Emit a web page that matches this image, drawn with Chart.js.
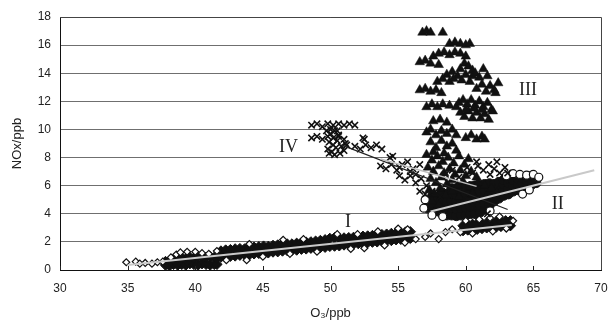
<!DOCTYPE html>
<html>
<head>
<meta charset="utf-8">
<script src="https://cdn.jsdelivr.net/npm/chart.js@4"></script>
<style>
  html, body { margin: 0; padding: 0; background: #fff; }
</style>
</head>
<body>
<canvas id="scatter" width="609" height="325"></canvas>
<script>
// ---- O3 vs NOx, four regimes ----

// regime I (diamonds): dense band core + scattered edge points
const coreI = [
  [37.8, 0.35], [37.8, 0.6], [38.1, 0.3], [38.1, 0.65], [38.4, 0.4], [38.4, 0.7],
  [38.7, 0.35], [38.7, 0.75], [39.0, 0.4], [39.0, 0.85], [39.3, 0.35], [39.3, 0.8],
  [39.6, 0.45], [39.6, 0.9], [39.9, 0.4], [39.9, 0.85], [40.2, 0.35], [40.2, 0.9],
  [40.5, 0.45], [40.5, 0.95], [40.8, 0.4], [40.8, 0.9], [41.1, 0.35], [41.1, 0.95],
  [41.4, 0.4], [41.4, 0.9], [41.6, 0.4], [41.6, 0.85],
  [41.9, 0.92], [41.9, 1.35], [42.25, 0.95], [42.25, 1.42], [42.6, 0.98], [42.6, 1.45],
  [42.95, 1.0], [42.95, 1.5], [43.3, 1.05], [43.3, 1.52], [43.65, 1.1], [43.65, 1.5],
  [44.0, 1.08], [44.0, 1.58], [44.35, 1.15], [44.35, 1.62], [44.7, 1.18], [44.7, 1.65],
  [45.05, 1.2], [45.05, 1.7], [45.4, 1.22], [45.4, 1.68], [45.75, 1.28], [45.75, 1.75],
  [46.1, 1.3], [46.1, 1.78], [46.45, 1.35], [46.45, 1.8], [46.8, 1.38], [46.8, 1.85],
  [47.15, 1.4], [47.15, 1.85], [47.5, 1.42], [47.5, 1.9], [47.85, 1.48], [47.85, 1.95],
  [48.2, 1.5], [48.2, 1.98], [48.55, 1.55], [48.55, 2.0], [48.9, 1.55], [48.9, 2.05],
  [49.25, 1.6], [49.25, 2.1], [49.6, 1.62], [49.6, 2.15], [49.95, 1.68], [49.95, 2.25],
  [50.3, 1.7], [50.3, 2.3], [50.65, 1.72], [50.65, 2.25], [51.0, 1.78], [51.0, 2.28],
  [51.35, 1.8], [51.35, 2.3], [51.7, 1.85], [51.7, 2.32], [52.05, 1.88], [52.05, 2.38],
  [52.4, 1.9], [52.4, 2.4], [52.75, 1.95], [52.75, 2.42], [53.1, 1.98], [53.1, 2.45],
  [53.45, 2.0], [53.45, 2.5], [53.8, 2.05], [53.8, 2.52], [54.15, 2.08], [54.15, 2.55],
  [54.5, 2.1], [54.5, 2.6], [54.85, 2.15], [54.85, 2.62], [55.2, 2.18], [55.2, 2.65],
  [55.55, 2.2], [55.55, 2.7], [55.9, 2.25], [55.9, 2.72],
  [59.8, 2.8], [59.8, 3.15], [60.15, 2.85], [60.15, 3.2], [60.5, 2.9], [60.5, 3.25],
  [60.85, 2.9], [60.85, 3.3], [61.2, 2.95], [61.2, 3.3], [61.55, 3.0], [61.55, 3.35],
  [61.9, 3.0], [61.9, 3.4], [62.25, 3.05], [62.25, 3.45], [62.6, 3.1], [62.6, 3.45],
  [62.95, 3.1], [62.95, 3.5], [63.3, 3.15], [63.3, 3.5]
];
const edgeI = [
  [34.9, 0.55], [35.6, 0.6], [35.9, 0.45], [36.3, 0.5], [36.8, 0.45], [37.2, 0.55],
  [37.6, 0.6], [38.2, 0.9], [38.6, 1.1], [38.9, 1.25], [39.4, 1.3], [40.0, 1.3],
  [40.5, 1.2], [41.0, 1.15], [41.6, 1.35], [42.3, 0.7], [43.8, 0.7], [44.0, 1.85],
  [45.0, 0.95], [46.5, 2.15], [47.0, 1.15], [48.0, 2.2], [49.0, 1.3], [50.5, 2.55],
  [51.5, 1.5], [52.0, 2.55], [52.5, 1.55], [53.5, 2.75], [54.0, 1.75], [55.0, 2.95],
  [55.5, 1.95], [55.7, 2.9], [56.3, 2.2], [57.0, 2.35], [57.4, 2.6], [58.0, 2.2],
  [58.5, 2.7], [59.0, 2.9], [59.6, 2.7], [60.0, 3.5], [61.0, 3.6], [61.8, 3.7],
  [62.5, 3.8], [63.5, 3.5], [60.5, 2.6], [62.0, 2.75], [63.0, 2.95]
];

// regime II (circles)
const coreII = [
  [57.2, 4.4], [57.2, 4.9], [57.55, 4.3], [57.55, 4.8], [57.55, 5.3],
  [57.9, 4.2], [57.9, 4.7], [57.9, 5.2], [58.25, 4.0], [58.25, 4.5], [58.25, 5.0], [58.25, 5.5],
  [58.6, 3.9], [58.6, 4.4], [58.6, 4.9], [58.6, 5.4],
  [58.95, 3.9], [58.95, 4.4], [58.95, 4.9], [58.95, 5.4], [58.95, 5.8],
  [59.3, 3.85], [59.3, 4.35], [59.3, 4.85], [59.3, 5.35], [59.3, 5.8],
  [59.65, 3.9], [59.65, 4.4], [59.65, 4.9], [59.65, 5.4], [59.65, 5.85],
  [60.0, 3.9], [60.0, 4.45], [60.0, 4.95], [60.0, 5.45], [60.0, 5.9],
  [60.35, 4.0], [60.35, 4.5], [60.35, 5.0], [60.35, 5.5], [60.35, 5.95],
  [60.7, 4.0], [60.7, 4.55], [60.7, 5.05], [60.7, 5.55], [60.7, 6.0],
  [61.05, 4.1], [61.05, 4.6], [61.05, 5.1], [61.05, 5.6], [61.05, 6.05],
  [61.4, 4.3], [61.4, 4.75], [61.4, 5.2], [61.4, 5.65], [61.4, 6.1],
  [61.75, 4.6], [61.75, 5.0], [61.75, 5.4], [61.75, 5.8], [61.75, 6.15],
  [62.1, 4.9], [62.1, 5.3], [62.1, 5.7], [62.1, 6.1],
  [62.45, 5.1], [62.45, 5.5], [62.45, 5.9], [62.45, 6.25],
  [62.8, 5.3], [62.8, 5.7], [62.8, 6.1], [62.8, 6.4],
  [63.15, 5.4], [63.15, 5.8], [63.15, 6.2], [63.15, 6.5],
  [63.5, 5.6], [63.5, 6.0], [63.5, 6.4], [63.85, 5.7], [63.85, 6.1], [63.85, 6.5],
  [64.2, 5.8], [64.2, 6.2], [64.2, 6.55], [64.55, 5.9], [64.55, 6.3], [64.55, 6.6],
  [64.9, 6.1], [64.9, 6.4], [64.9, 6.7], [65.2, 6.2], [65.2, 6.5]
];
const edgeII = [
  [63.0, 6.7], [63.5, 6.85], [64.0, 6.8], [64.5, 6.75], [65.0, 6.8], [65.4, 6.6],
  [64.2, 5.4], [64.7, 5.7], [58.3, 3.8], [57.5, 3.9], [56.9, 4.4], [57.0, 5.0],
  [61.8, 4.2]
];

// regime III (filled triangles)
const pointsIII = [
  [56.8, 16.9], [57.1, 17.0], [57.4, 16.9], [58.3, 16.9],
  [58.8, 16.1], [59.2, 16.2], [59.6, 16.1], [60.0, 16.0], [60.3, 16.1],
  [57.6, 15.2], [58.0, 15.4], [58.4, 15.5], [58.8, 15.3], [59.2, 15.5], [59.6, 15.4], [60.0, 15.2],
  [56.6, 14.8], [57.0, 14.9], [57.4, 14.7], [58.0, 14.6],
  [59.6, 14.3], [59.9, 14.7], [60.2, 14.5], [60.5, 14.2],
  [58.6, 13.9], [59.0, 14.1], [59.4, 13.8],
  [59.7, 13.5], [60.0, 13.9], [60.3, 13.4], [60.5, 13.8],
  [60.7, 14.0], [61.0, 13.7], [61.3, 14.3], [61.6, 13.8],
  [57.9, 13.4], [58.3, 13.6], [58.8, 13.4], [59.1, 13.6],
  [60.8, 12.9], [61.2, 13.2], [61.5, 12.7], [61.8, 13.1], [62.1, 12.8], [62.4, 13.3], [62.2, 12.6],
  [56.6, 12.8], [57.0, 12.9], [57.4, 12.7], [57.8, 12.8], [58.2, 12.6],
  [57.1, 11.6], [57.5, 11.8], [57.9, 11.6], [58.3, 11.8], [58.8, 11.7], [59.3, 11.6],
  [59.5, 11.9], [59.8, 12.1], [60.1, 11.8], [60.4, 12.1], [60.7, 11.7], [61.0, 12.0],
  [61.3, 11.6], [61.6, 11.9], [61.9, 11.4],
  [59.6, 11.2], [59.9, 10.9], [60.2, 11.3], [60.5, 10.8], [60.8, 11.2], [61.1, 10.8],
  [61.4, 11.1], [61.7, 10.7], [62.0, 11.3], [60.0, 11.4], [60.6, 11.5], [61.2, 11.4],
  [57.6, 10.6], [58.1, 10.7], [58.6, 10.5],
  [57.1, 9.8], [57.4, 10.0], [57.8, 9.6], [58.2, 9.9], [58.6, 9.7], [59.0, 10.0], [59.3, 9.6],
  [60.0, 9.4], [60.4, 9.6], [60.8, 9.3], [61.2, 9.5], [61.4, 9.3],
  [57.4, 9.1], [57.8, 8.7], [58.2, 9.2], [58.6, 8.8], [59.0, 9.0], [59.3, 8.5], [57.6, 8.4], [58.4, 8.3],
  [57.1, 8.2], [57.5, 7.8], [57.9, 8.1], [58.3, 7.7], [58.7, 8.0], [59.1, 7.6], [59.5, 8.1],
  [59.9, 7.5], [60.2, 7.9],
  [57.2, 7.3], [57.6, 7.0], [58.0, 7.4], [58.4, 6.9], [58.8, 7.2], [59.2, 6.8], [59.6, 7.1],
  [60.0, 6.7], [60.4, 7.0], [60.8, 6.6],
  [57.4, 6.5], [57.8, 6.2], [58.2, 6.6], [58.6, 6.1], [59.0, 6.4], [59.4, 6.0], [59.8, 6.3],
  [60.3, 5.9], [60.9, 6.2], [61.4, 6.0], [61.9, 5.8],
  [57.3, 5.7], [57.7, 5.4], [58.1, 5.8], [58.5, 5.3], [59.0, 5.6], [57.5, 4.9], [58.0, 4.6],
  [59.5, 5.2], [60.5, 5.4], [61.5, 5.2], [62.3, 5.5]
];

// regime IV (crosses)
const pointsIV = [
  [48.6, 10.3], [49.0, 10.4], [49.4, 10.2], [49.8, 10.4], [50.2, 10.3], [50.6, 10.4],
  [51.0, 10.3], [51.4, 10.4], [51.8, 10.3],
  [48.6, 9.4], [49.0, 9.5], [49.4, 9.3], [49.8, 9.5], [50.2, 9.4], [50.6, 9.5], [51.0, 9.3],
  [49.7, 9.9], [50.0, 9.7], [50.3, 9.9], [50.6, 9.6], [49.9, 9.1], [50.2, 8.9], [50.5, 9.2],
  [50.8, 8.8], [51.1, 9.0], [49.8, 8.6], [50.1, 8.4], [50.4, 8.7], [50.7, 8.3], [51.0, 8.5],
  [50.3, 8.2], [49.9, 8.3], [51.2, 8.9], [50.5, 9.9], [50.0, 10.0],
  [52.4, 9.4], [52.5, 9.3],
  [51.8, 8.8], [52.2, 8.6], [52.6, 8.9], [53.0, 8.7], [53.4, 8.9], [53.8, 8.6],
  [54.6, 8.1], [54.4, 8.0],
  [53.7, 7.4], [54.1, 7.2], [54.5, 7.5], [54.9, 7.1], [55.1, 7.3],
  [55.1, 6.7], [55.5, 6.4], [55.9, 6.7], [56.3, 6.2], [56.7, 6.5], [57.1, 6.0],
  [55.9, 7.0], [56.3, 6.8], [56.6, 5.6], [57.0, 5.4], [57.5, 5.6], [58.1, 5.2],
  [55.3, 7.5], [55.7, 7.7], [56.1, 7.2], [56.6, 7.5],
  [60.1, 7.3], [60.5, 6.9], [60.9, 7.4], [61.3, 7.1], [61.7, 7.5], [62.1, 7.2],
  [62.5, 6.9], [62.9, 7.3], [63.1, 6.9], [61.8, 6.8], [60.8, 7.7], [62.3, 7.7],
  [58.5, 6.8], [59.0, 7.1], [59.5, 6.6], [58.7, 6.2], [61.6, 4.0], [60.5, 4.4]
];

// fitted lines, endpoints
const fitI = [[35.0, 0.35], [63.4, 3.2]];
const fitII = [[57.4, 4.16], [69.5, 7.1]];
const fitIV = [[50.8, 8.9], [63.1, 4.3]];
const fitIII = [[53.7, 7.9], [60.8, 5.95]];

// regime names and where they sit
const regimeNames = ["I", "II", "III", "IV"];
const regimeAt = [[51.3, 3.4], [66.8, 4.7], [64.6, 12.8], [46.9, 8.7]];

const xTicks = [30, 35, 40, 45, 50, 55, 60, 65, 70];

const toXY = (arr) => arr.map(([x, y]) => ({ x, y }));

const markers = (data, style, radius, fill, order, width) => ({
    type: "scatter",
    data: toXY(data),
    pointStyle: style,
    pointRadius: radius,
    pointHoverRadius: radius,
    backgroundColor: fill,
    borderColor: "#111",
    borderWidth: width,
    order: order,
});

const fitLine = (data, color, width) => ({
    type: "line",
    data: toXY(data),
    borderColor: color,
    borderWidth: width,
    pointRadius: 0,
    fill: false,
    order: 0,
});

// inward x ticks, frame edges and regime labels
const decor = {
    id: "decor",
    afterDraw(chart) {
        const { ctx, chartArea, scales } = chart;
        ctx.save();
        ctx.strokeStyle = "#222";
        ctx.lineWidth = 1;
        xTicks.forEach((v) => {
            const px = Math.round(scales.x.getPixelForValue(v)) + 0.5;
            ctx.beginPath();
            ctx.moveTo(px, chartArea.bottom);
            ctx.lineTo(px, chartArea.bottom - 4);
            ctx.stroke();
        });
        ctx.strokeStyle = "#444";
        ctx.beginPath();
        ctx.moveTo(chartArea.left, Math.round(chartArea.top) + 0.5);
        ctx.lineTo(Math.round(chartArea.right) + 0.5, Math.round(chartArea.top) + 0.5);
        ctx.lineTo(Math.round(chartArea.right) + 0.5, chartArea.bottom);
        ctx.stroke();

        ctx.fillStyle = "#222";
        ctx.font = '18px "Liberation Serif", "Times New Roman", serif';
        ctx.textAlign = "center";
        ctx.textBaseline = "middle";
        regimeNames.forEach((name, i) => {
            const [x, y] = regimeAt[i];
            ctx.fillText(name, scales.x.getPixelForValue(x), scales.y.getPixelForValue(y));
        });
        ctx.restore();
    },
};

new Chart(document.getElementById("scatter"), {
    data: {
        datasets: [
            fitLine(fitI, "#c9c9c9", 2),
            fitLine(fitII, "#c9c9c9", 2),
            fitLine(fitIII, "#bdbdbd", 1.5),
            fitLine(fitIV, "#222", 1.2),
            markers(pointsIV, "crossRot", 4.5, "#111", 1, 1.6),
            markers(edgeI, "rectRot", 3.5, "#fff", 2, 1.2),
            markers(edgeII, "circle", 4, "#fff", 2, 1.2),
            markers(pointsIII, "triangle", 5.5, "#111", 3, 0.5),
            markers(coreII, "circle", 4.8, "#111", 4, 1),
            markers(coreI, "rectRot", 5.2, "#111", 4, 1),
        ],
    },
    options: {
        responsive: false,
        animation: false,
        events: [],
        layout: { padding: { top: 17, right: 8, left: 0, bottom: 0 } },
        plugins: { legend: { display: false }, tooltip: { enabled: false } },
        scales: {
            x: {
                type: "linear",
                min: 30,
                max: 70,
                afterFit: (s) => {
                    s.height = 55;
                    s.paddingLeft = 0;
                    s.paddingRight = 0;
                },
                ticks: {
                    stepSize: 5,
                    padding: 11,
                    color: "#222",
                    font: { family: '"Liberation Sans", Arial, sans-serif', size: 12 },
                },
                grid: { display: false, drawTicks: false },
                border: { display: true, color: "#111", width: 1 },
                title: {
                    display: true,
                    text: "O₃/ppb",
                    color: "#222",
                    padding: { top: 4 },
                    font: { family: '"Liberation Sans", Arial, sans-serif', size: 13 },
                },
            },
            y: {
                min: 0,
                max: 18,
                afterFit: (s) => { s.width = 60; },
                ticks: {
                    stepSize: 2,
                    padding: 9,
                    color: "#222",
                    font: { family: '"Liberation Sans", Arial, sans-serif', size: 12 },
                },
                grid: { color: "#6f6f6f", drawTicks: false },
                border: { display: true, color: "#111", width: 1 },
                title: {
                    display: true,
                    text: "NOx/ppb",
                    color: "#222",
                    padding: { top: 10, bottom: 4 },
                    font: { family: '"Liberation Sans", Arial, sans-serif', size: 13 },
                },
            },
        },
    },
    plugins: [decor],
});
</script>
</body>
</html>
